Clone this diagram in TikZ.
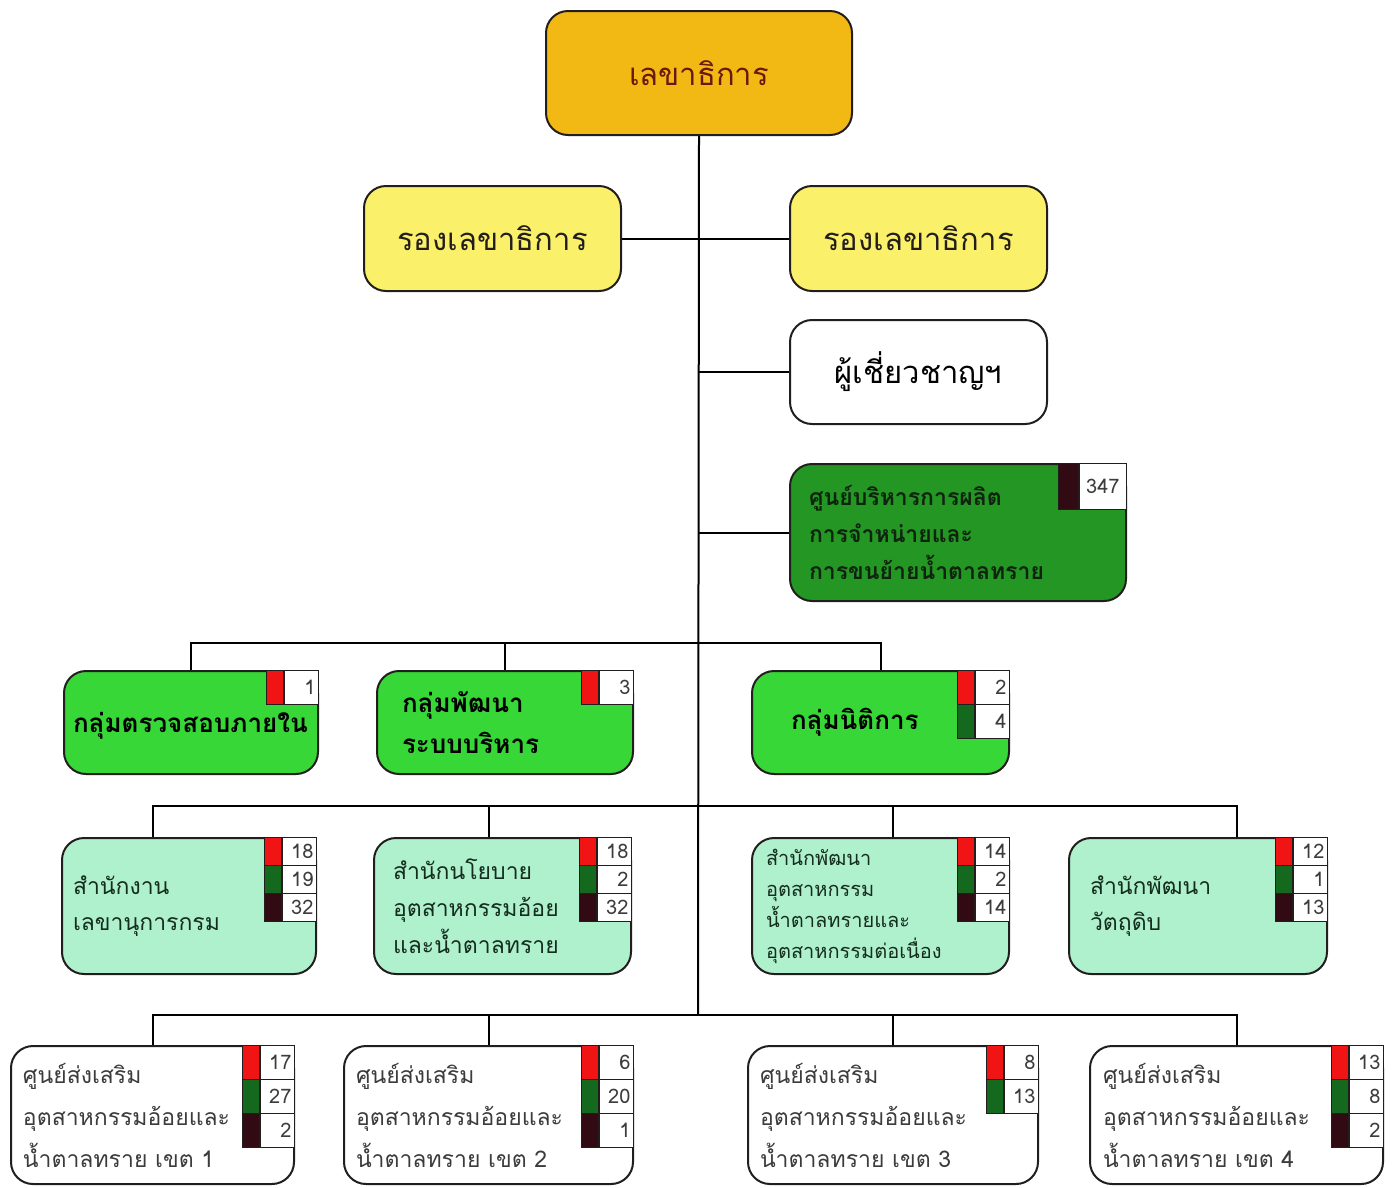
\documentclass[tikz,border=0pt]{standalone}
\usepackage{fontspec}
\newfontfamily\thai[Script=Thai]{Loma}
\usepackage{tikz}

\definecolor{edge}{RGB}{35,30,30}
\definecolor{gold}{RGB}{242,184,20}
\definecolor{secred}{RGB}{105,25,15}
\definecolor{lemon}{RGB}{250,240,105}
\definecolor{deepgreen}{RGB}{35,150,35}
\definecolor{brightgreen}{RGB}{55,215,55}
\definecolor{mint}{RGB}{175,240,205}
\definecolor{swred}{RGB}{240,20,20}
\definecolor{swgreen}{RGB}{20,105,30}
\definecolor{swmaroon}{RGB}{50,10,20}
\definecolor{numgray}{RGB}{60,60,60}

\tikzset{
  box/.style={rectangle, rounded corners=22pt, draw=edge, line width=2pt, anchor=north west},
  numcell/.style={rectangle, draw=edge, fill=white, line width=1.2pt, inner xsep=3pt, inner ysep=0pt,
    text width=28pt, align=right, text=numgray, font=\thai\fontsize{20}{20}\selectfont},
  swatch/.style={rectangle, draw=edge, line width=1.2pt, inner sep=0pt, minimum width=17pt}
}

% one row of the staff count table: box, row, row height, colour, number
\newcommand{\tally}[5]{%
  \node[numcell, minimum height=#3, anchor=north east] (#1n#2) at ([yshift={-#2*#3}]#1.north east) {#5};
  \node[swatch, minimum height=#3, fill=#4, anchor=north east] (#1s#2) at (#1n#2.north west) {};
}

\begin{document}
\begin{tikzpicture}[x=1pt, y=-1pt, line width=2pt]
\useasboundingbox (0,0) rectangle (1394,1187);

% top levels
\node[box, fill=gold, minimum width=306pt, minimum height=124pt, text=secred,
  font=\thai\fontsize{31}{36}\selectfont] (sec) at (545,10) {เลขาธิการ};
\node[box, fill=lemon, minimum width=257pt, minimum height=105pt, text=edge,
  font=\thai\fontsize{31}{36}\selectfont] (dep1) at (363,185) {รองเลขาธิการ};
\node[box, fill=lemon, minimum width=257pt, minimum height=105pt, text=edge,
  font=\thai\fontsize{31}{36}\selectfont] (dep2) at (789,185) {รองเลขาธิการ};
\node[box, fill=white, minimum width=257pt, minimum height=104pt, text=black,
  font=\thai\fontsize{31}{36}\selectfont] (exp) at (789,319) {ผู้เชี่ยวชาญฯ};
\node[box, fill=deepgreen, text width=298pt, inner xsep=19pt, minimum height=137pt, align=left,
  text={rgb,255:red,15;green,35;blue,15}, font=\thai\bfseries\fontsize{23}{37}\selectfont] (prod) at (789,463)
  {ศูนย์บริหารการผลิต\\การจำหน่ายและ\\การขนย้ายน้ำตาลทราย};

% groups
\node[box, fill=brightgreen, text width=236pt, inner xsep=9pt, minimum height=103pt, align=left,
  font=\thai\bfseries\fontsize{26}{41}\selectfont] (g1) at (63,670) {\\[-14pt]กลุ่มตรวจสอบภายใน};
\node[box, fill=brightgreen, text width=206pt, inner xsep=25pt, minimum height=103pt, align=left,
  font=\thai\bfseries\fontsize{26}{41}\selectfont] (g2) at (376,670) {กลุ่มพัฒนา\\ระบบบริหาร};
\node[box, fill=brightgreen, text width=179pt, inner xsep=39pt, minimum height=103pt, align=left,
  font=\thai\bfseries\fontsize{26}{41}\selectfont] (g3) at (751,670) {กลุ่มนิติการ};

% offices
\node[box, fill=mint, text width=232pt, inner xsep=11pt, minimum height=136pt, align=left,
  text={rgb,255:red,20;green,45;blue,30}, font=\thai\fontsize{23}{36}\selectfont] (o1) at (61,837)
  {สำนักงาน\\เลขานุการกรม};
\node[box, fill=mint, text width=219pt, inner xsep=19pt, minimum height=136pt, align=left,
  text={rgb,255:red,20;green,45;blue,30}, font=\thai\fontsize{23}{37}\selectfont] (o2) at (373,837)
  {สำนักนโยบาย\\อุตสาหกรรมอ้อย\\และน้ำตาลทราย};
\node[box, fill=mint, text width=229pt, inner xsep=14pt, minimum height=136pt, align=left,
  text={rgb,255:red,20;green,45;blue,30}, font=\thai\fontsize{20}{31}\selectfont] (o3) at (751,837)
  {สำนักพัฒนา\\อุตสาหกรรม\\น้ำตาลทรายและ\\อุตสาหกรรมต่อเนื่อง};
\node[box, fill=mint, text width=216pt, inner xsep=21pt, minimum height=136pt, align=left,
  text={rgb,255:red,20;green,45;blue,30}, font=\thai\fontsize{23}{36}\selectfont] (o4) at (1068,837)
  {สำนักพัฒนา\\วัตถุดิบ};

% promotion centres
\node[box, fill=white, text width=259pt, inner xsep=12pt, minimum height=138pt, align=left,
  text=numgray, font=\thai\fontsize{23}{42}\selectfont] (s1) at (10,1045)
  {ศูนย์ส่งเสริม\\อุตสาหกรรมอ้อยและ\\น้ำตาลทราย เขต 1};
\node[box, fill=white, text width=265pt, inner xsep=12pt, minimum height=138pt, align=left,
  text=numgray, font=\thai\fontsize{23}{42}\selectfont] (s2) at (343,1045)
  {ศูนย์ส่งเสริม\\อุตสาหกรรมอ้อยและ\\น้ำตาลทราย เขต 2};
\node[box, fill=white, text width=266pt, inner xsep=12pt, minimum height=138pt, align=left,
  text=numgray, font=\thai\fontsize{23}{42}\selectfont] (s3) at (747,1045)
  {ศูนย์ส่งเสริม\\อุตสาหกรรมอ้อยและ\\น้ำตาลทราย เขต 3};
\node[box, fill=white, text width=267pt, inner xsep=13pt, minimum height=138pt, align=left,
  text=numgray, font=\thai\fontsize{23}{42}\selectfont] (s4) at (1089,1045)
  {ศูนย์ส่งเสริม\\อุตสาหกรรมอ้อยและ\\น้ำตาลทราย เขต 4};

% count tables
\node[numcell, text width=41pt, minimum height=46pt, align=center, anchor=north east] (prodn0) at (prod.north east) {347};
\node[swatch, minimum width=20pt, minimum height=46pt, fill=swmaroon, anchor=north east] (prods0) at (prodn0.north west) {};
\tally{g1}{0}{34pt}{swred}{1}
\tally{g2}{0}{34pt}{swred}{3}
\tally{g3}{0}{34pt}{swred}{2}
\tally{g3}{1}{34pt}{swgreen}{4}
\tally{o1}{0}{28pt}{swred}{18}
\tally{o1}{1}{28pt}{swgreen}{19}
\tally{o1}{2}{28pt}{swmaroon}{32}
\tally{o2}{0}{28pt}{swred}{18}
\tally{o2}{1}{28pt}{swgreen}{2}
\tally{o2}{2}{28pt}{swmaroon}{32}
\tally{o3}{0}{28pt}{swred}{14}
\tally{o3}{1}{28pt}{swgreen}{2}
\tally{o3}{2}{28pt}{swmaroon}{14}
\tally{o4}{0}{28pt}{swred}{12}
\tally{o4}{1}{28pt}{swgreen}{1}
\tally{o4}{2}{28pt}{swmaroon}{13}
\tally{s1}{0}{34pt}{swred}{17}
\tally{s1}{1}{34pt}{swgreen}{27}
\tally{s1}{2}{34pt}{swmaroon}{2}
\tally{s2}{0}{34pt}{swred}{6}
\tally{s2}{1}{34pt}{swgreen}{20}
\tally{s2}{2}{34pt}{swmaroon}{1}
\tally{s3}{0}{34pt}{swred}{8}
\tally{s3}{1}{34pt}{swgreen}{13}
\tally{s4}{0}{34pt}{swred}{13}
\tally{s4}{1}{34pt}{swgreen}{8}
\tally{s4}{2}{34pt}{swmaroon}{2}

% trunk and buses
\coordinate (r3) at (698,643);
\coordinate (r4) at (698,806);
\coordinate (r5) at (698,1015);
\draw (sec.south) -- (r5);
\draw (dep1.east) -- (dep2.west);
\draw (exp.west) -- (exp.west -| sec.south);
\draw (prod.west) -- (prod.west -| sec.south);
\draw (g1.north) |- (r3) -| (g3.north);
\draw (g2.north) -- (g2.north |- r3);
\draw (o1.north -| s1.north) |- (r4) -| (o4.north -| s4.north);
\draw (o2.north -| s2.north) -- (r4 -| s2.north);
\draw (o3.north -| s3.north) -- (r4 -| s3.north);
\draw (s1.north) |- (r5) -| (s4.north);
\draw (s2.north) -- (s2.north |- r5);
\draw (s3.north) -- (s3.north |- r5);
\end{tikzpicture}
\end{document}
